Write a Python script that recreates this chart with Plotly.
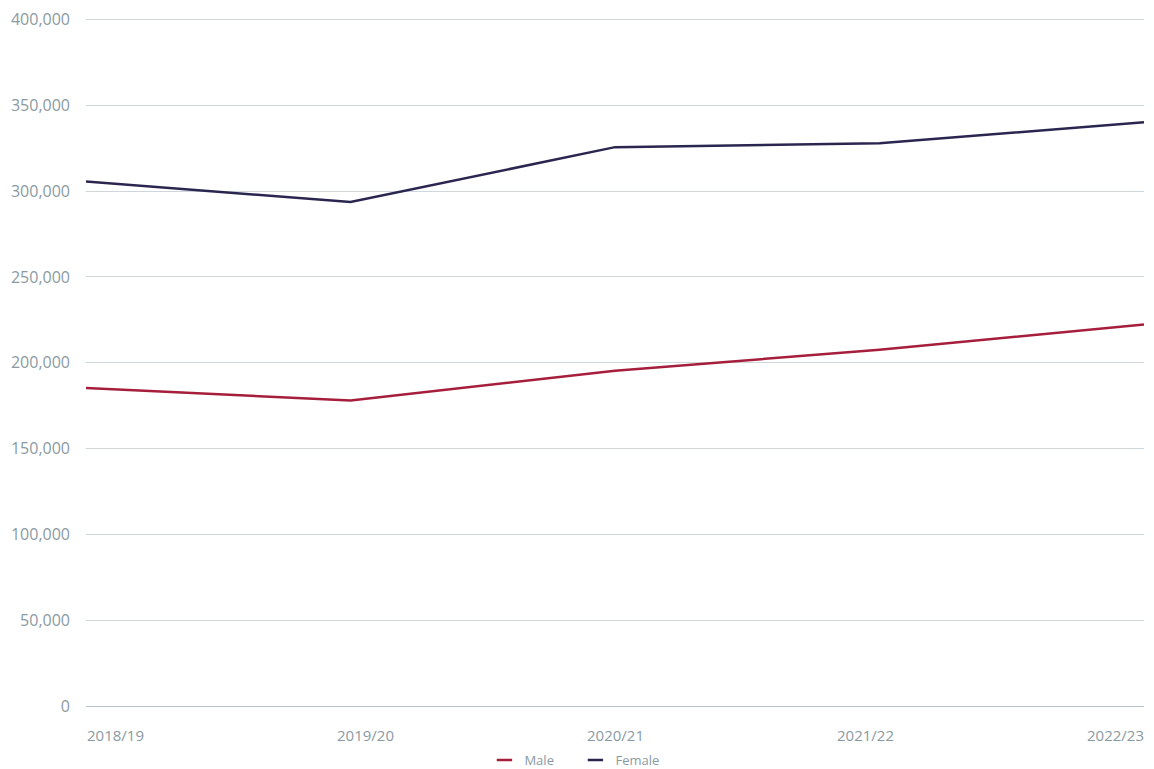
import plotly.graph_objects as go

# academic years and headcounts by sex
years = ["2018/19", "2019/20", "2020/21", "2021/22", "2022/23"]
male = [185300, 178000, 195300, 207600, 222300]
female = [305600, 293600, 325600, 327900, 340100]

y_ticks = [0, 50000, 100000, 150000, 200000, 250000, 300000, 350000, 400000]
y_ticktext = [f"{v:,}" for v in y_ticks]

grey_text = "#8a9aa2"
male_col = "#a61e3c"
female_col = "#2b2650"
font = "Open Sans"

fig = go.Figure()
fig.add_trace(go.Scatter(x=years, y=male, name="Male", mode="lines",
                         line=dict(color=male_col, width=2.5), showlegend=False))
fig.add_trace(go.Scatter(x=years, y=female, name="Female", mode="lines",
                         line=dict(color=female_col, width=2.5), showlegend=False))
# legend-only entries with short dash symbols
for name, col in [("Male", male_col), ("Female", female_col)]:
    fig.add_trace(go.Scatter(x=[None], y=[None], name=name, mode="markers",
                             marker=dict(symbol="line-ew", size=11,
                                         line=dict(color=col, width=2.5))))
# invisible trace so the label axis gets drawn
fig.add_trace(go.Scatter(x=years, y=[None] * len(years), xaxis="x2",
                         showlegend=False, hoverinfo="skip"))

# label axis is a bit narrower than the data axis (labels sit inside the ends)
plot_w = 1058
lab_span = 1000
lab_left = 29.5
width_units = (len(years) - 1) * plot_w / lab_span
x2_lo = -lab_left / plot_w * width_units
x2_hi = x2_lo + width_units

fig.update_layout(
    width=1146, height=777,
    margin=dict(l=78, r=10, t=7.6, b=78.5),
    plot_bgcolor="white", paper_bgcolor="white",
    font=dict(family=font, size=15, color=grey_text),
    xaxis=dict(type="category", range=[0, len(years) - 1],
               showticklabels=False, showgrid=False, zeroline=False,
               showline=False, ticks="", automargin=False),
    xaxis2=dict(type="category", overlaying="x", anchor="y", side="bottom",
                range=[x2_lo, x2_hi], showgrid=False, zeroline=False,
                showline=False, ticks="", ticklabelstandoff=19,
                automargin=False, tickfont=dict(size=15, color=grey_text)),
    yaxis=dict(range=[0, 402000], tickvals=y_ticks, ticktext=y_ticktext,
               gridcolor="#cfd7dc", gridwidth=1, zeroline=True,
               zerolinecolor="#b4c3ce", zerolinewidth=1, showline=False,
               ticks="", ticklabelstandoff=15, automargin=False,
               ticklabeloverflow="allow",
               tickfont=dict(size=16, color=grey_text)),
    legend=dict(orientation="h", x=0.4626, xanchor="center",
                yref="container", y=0.032, yanchor="middle",
                font=dict(size=13, color=grey_text),
                itemwidth=30, entrywidth=46, tracegroupgap=0),
    showlegend=True,
)

fig.write_html("out.html")
